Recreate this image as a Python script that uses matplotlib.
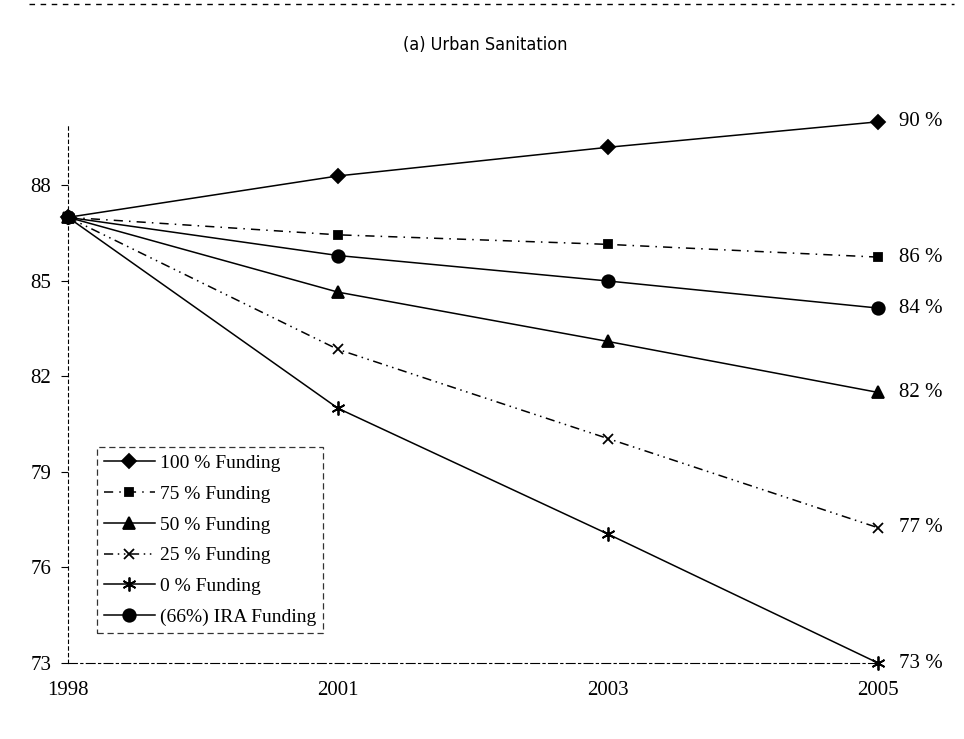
import matplotlib.pyplot as plt
from matplotlib.lines import Line2D

years = ['1998', '2001', '2003', '2005']
f100 = [87.0, 88.3, 89.2, 90.0]
f75 = [87.0, 86.45, 86.15, 85.75]
f50 = [87.0, 84.65, 83.1, 81.5]
f25 = [87.0, 82.85, 80.05, 77.25]
f0 = [87.0, 81.0, 77.05, 73.0]
ira = [87.0, 85.8, 85.0, 84.15]
end_labels = ['90 %', '86 %', '82 %', '77 %', '73 %', '84 %']

serif = ['Liberation Serif', 'DejaVu Serif']
plt.rcParams['font.family'] = serif

fig = plt.figure(figsize=(9.64, 7.39), dpi=100)
ax = fig.add_axes([68/964, 1 - 663/739, 810/964, 538/739])

x = range(len(years))
series = [
    (f100, '100 % Funding', '-', 'D', 7),
    (f75, '75 % Funding', (0, (6, 4, 1, 4)), 's', 6),
    (f50, '50 % Funding', '-', '^', 8),
    (f25, '25 % Funding', (0, (6, 3, 1, 3, 1, 3)), 'x', 7),
    (f0, '0 % Funding', '-', (6, 2, 0), 10),
    (ira, '(66%) IRA Funding', '-', 'o', 9),
]
for vals, lab, ls, mk, ms in series:
    ax.plot(x, vals, color='black', linestyle=ls, linewidth=1.1, marker=mk,
            markersize=ms, markeredgewidth=1.3, label=lab, clip_on=False)

vals_end = [f100[-1], f75[-1], f50[-1], f25[-1], f0[-1], ira[-1]]
for v, t in zip(vals_end, end_labels):
    ax.annotate(t, (3, v), xytext=(15, 0), textcoords='offset points',
                va='center', ha='left', fontsize=15, annotation_clip=False)

ax.set_xlim(0, 3)
ax.set_ylim(73, 89.9)
ax.set_xticks(list(x))
ax.set_xticklabels(years, fontsize=15)
ax.set_yticks([73, 76, 79, 82, 85, 88])
ax.set_yticklabels(['73', '76', '79', '82', '85', '88'], fontsize=15)
ax.tick_params(axis='x', length=0, pad=13)
ax.tick_params(axis='y', length=5, direction='out', pad=7)

ax.spines['top'].set_visible(False)
ax.spines['right'].set_visible(False)
ax.spines['left'].set_linestyle((0, (3, 3)))
ax.spines['bottom'].set_linestyle((0, (8, 3, 2, 3)))

leg = ax.legend(loc='lower left', bbox_to_anchor=(0.036, 0.056), fontsize=14,
                frameon=True, fancybox=False, handlelength=2.6,
                borderpad=0.35, labelspacing=0.68, handletextpad=0.3,
                borderaxespad=0)
leg.get_frame().set_edgecolor('black')
leg.get_frame().set_linestyle((0, (5, 3)))
leg.get_frame().set_linewidth(0.9)

fig.text(0.503, 1 - 45/739, '(a) Urban Sanitation', ha='center', va='center',
         fontsize=13, family='DejaVu Sans', stretch='condensed')
fig.add_artist(Line2D([0.03, 0.99], [0.994, 0.994], color='black',
                      linewidth=1.0, linestyle=(0, (4, 4))))

fig.savefig('out.png', dpi=100)
